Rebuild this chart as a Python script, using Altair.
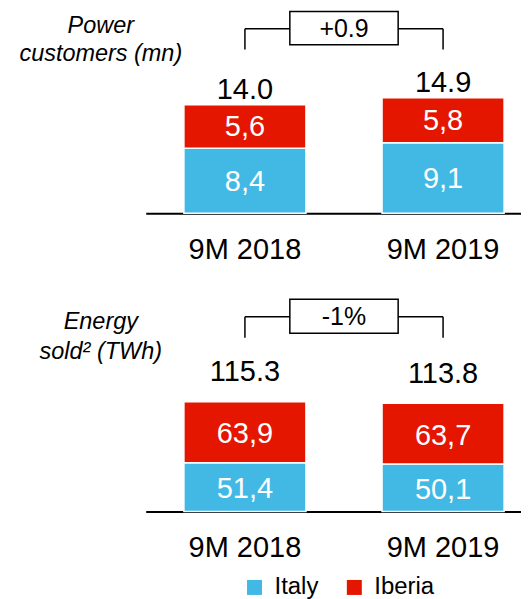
import altair as alt
import pandas as pd

# ---- data ----
periods = ["9M 2018", "9M 2019"]
regions = ["Italy", "Iberia"]
region_colors = ["#42B9E4", "#E51600"]

customers_italy = [8.4, 9.1]
customers_iberia = [5.6, 5.8]
customers_delta = "+0.9"
customers_title = "Power\ncustomers (mn)"

energy_italy = [51.4, 50.1]
energy_iberia = [63.9, 63.7]
energy_delta = "-1%"
energy_title = "Energy\nsold\u00b2 (TWh)"

FONT = "Liberation Sans"
W = 376


def long_table(italy, iberia):
    rows = []
    for i, p in enumerate(periods):
        for ordv, (reg, vals) in enumerate(zip(regions, [italy, iberia])):
            rows.append({"period": p, "region": reg, "ord": ordv, "value": vals[i],
                         "label": f"{vals[i]:.1f}".replace(".", ",")})
    return pd.DataFrame(rows)


xscale = alt.Scale(domain=periods, paddingInner=0.384, paddingOuter=0.139, align=0.693)
xaxis = alt.Axis(labelFontSize=29, labelColor="black", ticks=False, tickSize=0,
                 domainColor="black", domainWidth=2, labelPadding=45,
                 labelBaseline="alphabetic", labelAngle=0, title=None, grid=False,
                 labelFont=FONT)

legend_spec = alt.Legend(orient="none", legendX=97, legendY=567, direction="horizontal",
                         title=None, symbolType="square", symbolSize=225,
                         symbolStrokeWidth=0, labelFontSize=24, labelFont=FONT,
                         labelColor="black", labelOffset=8, columnPadding=23,
                         padding=0)


def panel(italy, iberia, delta, title, ymax, height, geo):
    df = long_table(italy, iberia)
    yscale = alt.Scale(domain=[0, ymax], nice=False, zero=True)
    base = alt.Chart(df)
    stacked = base.transform_stack(
        stack="value", groupby=["period"], as_=["y0", "y1"],
        sort=[alt.SortField("ord", order="ascending")],
    )
    color = alt.Color("region:N", scale=alt.Scale(domain=regions, range=region_colors),
                      legend=legend_spec)
    bars = stacked.mark_bar(stroke="white", strokeWidth=1.5).encode(
        x=alt.X("period:N", scale=xscale, axis=xaxis, sort=periods),
        y=alt.Y("y1:Q", scale=yscale, axis=None),
        y2="y0:Q",
        color=color,
    )
    inner = stacked.transform_calculate(mid="(datum.y0 + datum.y1) / 2").mark_text(
        color="white", fontSize=29, font=FONT, baseline="alphabetic", dy=geo["inner_dy"]
    ).encode(
        x=alt.X("period:N", sort=periods),
        y=alt.Y("mid:Q", scale=yscale, axis=None),
        text="label:N",
    )
    totals = base.transform_aggregate(total="sum(value)", groupby=["period"]).mark_text(
        color="black", fontSize=29, font=FONT, baseline="alphabetic", dy=geo["total_dy"]
    ).encode(
        x=alt.X("period:N", sort=periods),
        y=alt.Y("total:Q", scale=yscale, axis=None),
        text=alt.Text("total:Q", format=".1f"),
    )
    brk = alt.Chart(pd.DataFrame({"a": [periods[0]], "b": [periods[1]], "label": [delta],
                                  "title": [title]}))
    hline = brk.mark_rule(color="black", strokeWidth=1.5).encode(
        x=alt.X("a:N", bandPosition=0.5),
        x2=alt.X2("b", bandPosition=0.5),
        y=alt.value(geo["br"]),
    )
    legs = alt.Chart(pd.DataFrame({"period": periods})).mark_rule(
        color="black", strokeWidth=1.5
    ).encode(
        x=alt.X("period:N"),
        y=alt.value(geo["br"]),
        y2=alt.value(geo["leg"]),
    )
    box = brk.mark_rect(fill="white", stroke="black", strokeWidth=1.5,
                        xOffset=45, x2Offset=-45).encode(
        x=alt.X("a:N", bandPosition=0.5),
        x2=alt.X2("b", bandPosition=0.5),
        y=alt.value(geo["box0"]),
        y2=alt.value(geo["box1"]),
    )
    dtext = brk.mark_text(fontSize=25, font=FONT, color="black", baseline="alphabetic",
                          dx=99.25).encode(
        x=alt.X("a:N"),
        y=alt.value(geo["dt"]),
        text="label:N",
    )
    ttl = brk.mark_text(fontSize=23.5, font=FONT, fontStyle="italic", color="black",
                        baseline="alphabetic", align="center", lineBreak="\n",
                        lineHeight=geo["lh"]).encode(
        x=alt.value(-45),
        y=alt.value(geo["tt"]),
        text="title:N",
    )
    return alt.layer(bars, inner, totals, hline, legs, box, dtext, ttl).properties(
        width=W, height=height
    )


top = panel(customers_italy, customers_iberia, customers_delta, customers_title, 26.3, 204,
            dict(inner_dy=10, total_dy=-6, br=19.3, leg=40, box0=2, box1=35.3, dt=27.5,
                 tt=23, lh=28.3))
bottom = panel(energy_italy, energy_iberia, energy_delta, energy_title, 230.6, 220,
               dict(inner_dy=11, total_dy=-20.5, br=24.7, leg=45.7, box0=7.3, box1=41.3,
                    dt=33.3, tt=37.3, lh=29.4))

chart = alt.vconcat(top, bottom, spacing=79, bounds="flush").properties(
    padding={"left": 11, "top": 1, "right": 0, "bottom": 0}
).configure(font=FONT).configure_view(stroke="transparent", strokeWidth=0)

chart.save("out.html", embed_options={"renderer": "svg", "actions": False})
